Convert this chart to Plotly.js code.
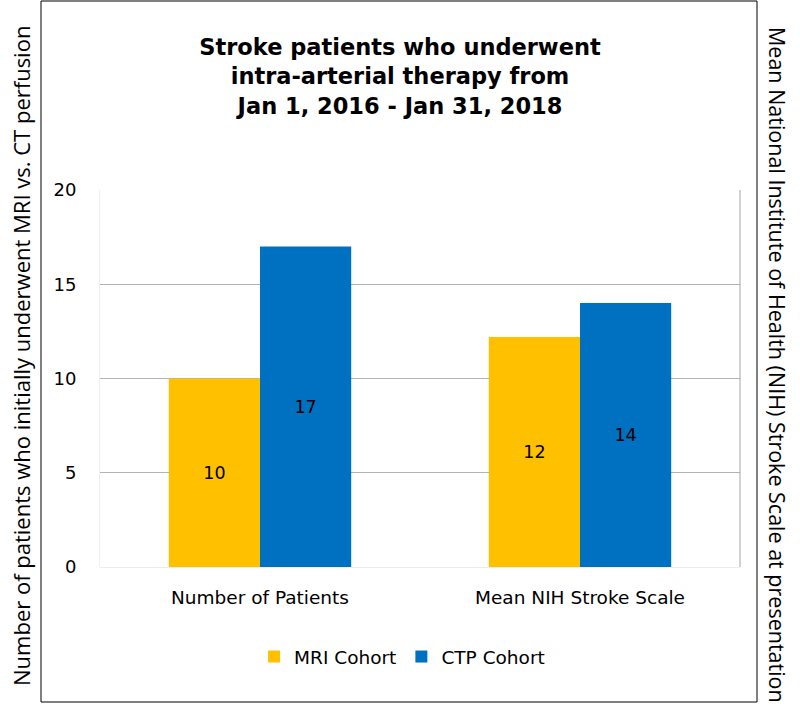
<!DOCTYPE html>
<html>
<head>
<meta charset="utf-8">
<script src="https://cdn.plot.ly/plotly-3.0.1.min.js"></script>
<style>html,body{margin:0;padding:0;background:#fff;}#chart{width:800px;height:706px;}</style>
</head>
<body>
<div id="chart"></div>
<script>
const categories = ["Number of Patients", "Mean NIH Stroke Scale"];
const mriValues = [10, 12.2];
const ctpValues = [17, 14.0];
const seriesNames = ["MRI Cohort", "CTP Cohort"];
const yTicks = [0, 5, 10, 15, 20];

const labelFont = {family: "DejaVu Sans, Verdana, sans-serif", size: 17.5, color: "#000"};

const traces = [
  {
    type: "bar", name: seriesNames[0], x: categories, y: mriValues,
    marker: {color: "#FFC000"},
    text: mriValues.map(v => String(Math.round(v))),
    textposition: "inside", insidetextanchor: "middle",
    textfont: labelFont, hoverinfo: "x+y"
  },
  {
    type: "bar", name: seriesNames[1], x: categories, y: ctpValues,
    marker: {color: "#0070C0"},
    text: ctpValues.map(v => String(Math.round(v))),
    textposition: "inside", insidetextanchor: "middle",
    textfont: labelFont, hoverinfo: "x+y"
  }
];

const layout = {
  width: 800, height: 706,
  margin: {l: 100, r: 60, t: 190, b: 139},
  paper_bgcolor: "#fff", plot_bgcolor: "#fff",
  barmode: "group", bargap: 0.43, bargroupgap: 0,
  showlegend: true,
  title: {
    text: "<b>Stroke patients who underwent<br>intra-arterial therapy from<br>Jan 1, 2016 - Jan 31, 2018</b>",
    font: {family: "DejaVu Sans, Verdana, sans-serif", size: 22.5, color: "#000"},
    x: 0.5, xanchor: "center", xref: "container",
    y: 1 - 55/706, yanchor: "middle", yref: "container"
  },
  xaxis: {
    type: "category",
    tickfont: {family: "DejaVu Sans, Verdana, sans-serif", size: 18.5, color: "#000"},
    showline: false, showgrid: false, ticks: "", ticklabelstandoff: 17, automargin: false
  },
  yaxis: {
    range: [0, 20], tickvals: yTicks, ticktext: yTicks.map(String),
    tickfont: {family: "DejaVu Sans, Verdana, sans-serif", size: 18, color: "#000"},
    showgrid: true, gridcolor: "#b3b3b3", gridwidth: 1,
    zeroline: true, zerolinecolor: "#ececec", zerolinewidth: 1,
    showline: true, linecolor: "#f0f0f0", linewidth: 1,
    ticks: "", ticklabelstandoff: 19, automargin: false
  },
  legend: {
    orientation: "h", x: 0.472, xanchor: "center", y: (567-657)/377, yanchor: "middle",
    font: {family: "DejaVu Sans, Verdana, sans-serif", size: 18.5, color: "#000"},
    itemwidth: 30, traceorder: "normal"
  },
  annotations: [
    {
      text: "Number of patients who initially underwent MRI vs. CT perfusion",
      xref: "paper", yref: "paper", x: (21-100)/640, y: (567-356)/377,
      xanchor: "center", yanchor: "middle", textangle: -90, showarrow: false,
      font: {family: "Open Sans, Noto Sans, sans-serif", size: 22, color: "#000"}
    },
    {
      text: "Mean National Institute of Health (NIH) Stroke Scale at presentation",
      xref: "paper", yref: "paper", x: (778-100)/640, y: (567-365)/377,
      xanchor: "center", yanchor: "middle", textangle: 90, showarrow: false,
      font: {family: "Open Sans, Noto Sans, sans-serif", size: 21.5, color: "#000"}
    }
  ],
  shapes: [
    {type: "rect", xref: "paper", yref: "paper",
     x0: (41-100)/640, x1: (757-100)/640, y0: (567-702)/377, y1: (567-1)/377,
     line: {color: "#000", width: 1}, fillcolor: "rgba(0,0,0,0)", layer: "below"},
    {type: "line", xref: "paper", yref: "paper", x0: 1, x1: 1, y0: 0, y1: 1,
     line: {color: "#a6a6a6", width: 1}}
  ]
};

Plotly.newPlot("chart", traces, layout, {displayModeBar: false, staticPlot: true});
</script>
</body>
</html>
